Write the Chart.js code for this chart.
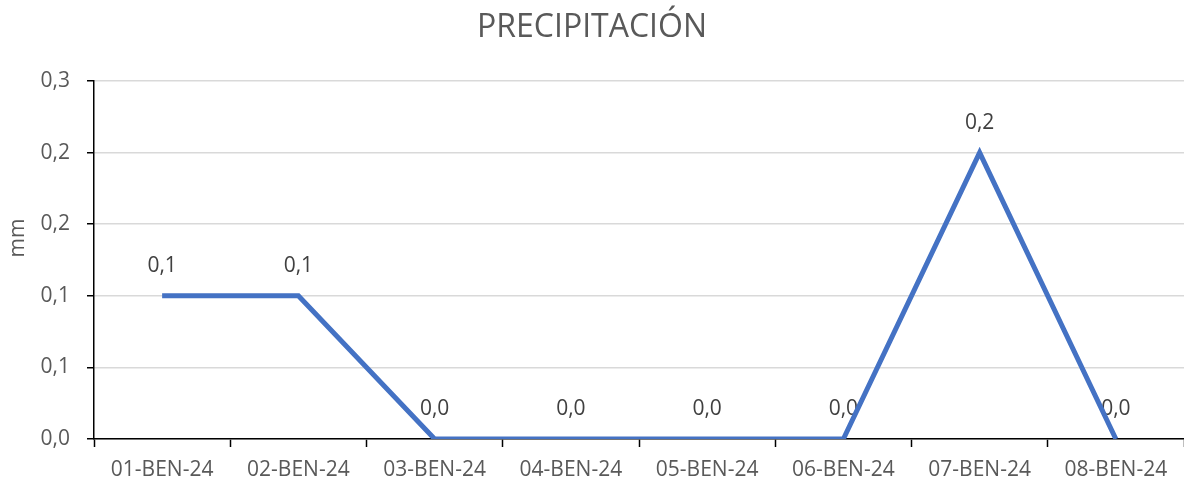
<!DOCTYPE html>
<html>
<head>
<meta charset="utf-8">
<script src="https://cdn.jsdelivr.net/npm/chart.js@4/dist/chart.umd.min.js"></script>
<style>
html, body { margin: 0; padding: 0; background: #fff; }
</style>
</head>
<body>
<canvas id="grafico" width="1184" height="482"></canvas>
<script>
// DATOS
const dias = ['01-BEN-24', '02-BEN-24', '03-BEN-24', '04-BEN-24', '05-BEN-24', '06-BEN-24', '07-BEN-24', '08-BEN-24']
const precipitacion = [0.1, 0.1, 0, 0, 0, 0, 0.2, 0]
const yTicks = [0, 0.05, 0.1, 0.15, 0.2, 0.25]
const yLabels = ['0,0', '0,1', '0,1', '0,2', '0,2', '0,3']

const fuente = '"Open Sans", "Noto Sans", sans-serif'
const gris = '#595959'

function formato(v) {
    return (Math.round(v * 10 + 1e-9) / 10).toFixed(1).replace('.', ',')
}

// etiquetas encima de cada punto (debajo de la linea)
const etiquetas = {
    id: 'etiquetas',
    beforeDatasetsDraw(chart) {
        let ctx = chart.ctx
        let meta = chart.getDatasetMeta(0)
        ctx.save()
        ctx.font = '21px ' + fuente
        ctx.fillStyle = '#404040'
        ctx.textAlign = 'center'
        ctx.textBaseline = 'middle'
        meta.data.forEach((p, i) => {
            ctx.fillText(formato(precipitacion[i]), p.x, p.y - 30)
        })
        ctx.restore()
    }
}

// titulo del eje y
const tituloY = {
    id: 'tituloY',
    afterDraw(chart) {
        let ctx = chart.ctx
        ctx.save()
        ctx.translate(18, 238)
        ctx.rotate(-Math.PI / 2)
        ctx.font = '21px ' + fuente
        ctx.fillStyle = gris
        ctx.textAlign = 'center'
        ctx.textBaseline = 'middle'
        ctx.fillText('mm', 0, 0)
        ctx.restore()
    }
}

new Chart(document.getElementById('grafico').getContext('2d'), {
    type: 'line',
    data: {
        labels: dias,
        datasets: [{
            label: 'mm',
            data: precipitacion,
            borderColor: '#4472C4',
            borderWidth: 5,
            pointRadius: 0,
            tension: 0,
            fill: false
        }]
    },
    options: {
        responsive: false,
        animation: false,
        layout: { padding: 0 },
        plugins: {
            legend: { display: false },
            tooltip: { enabled: false },
            title: {
                display: true,
                text: 'PRECIPITACIÓN',
                color: gris,
                font: { family: fuente, size: 32, weight: 'normal' },
                padding: { top: 8.8, bottom: 33.8 }
            }
        },
        scales: {
            x: {
                offset: true,
                grid: {
                    offset: true,
                    drawOnChartArea: false,
                    drawTicks: true,
                    tickLength: 8,
                    tickColor: '#000',
                    tickWidth: 1.5
                },
                border: { color: '#000', width: 1.5 },
                ticks: {
                    color: gris,
                    font: { family: fuente, size: 21 },
                    padding: 10,
                    maxRotation: 0
                },
                afterFit: s => { s.height = 43 }
            },
            y: {
                min: 0,
                max: 0.25,
                afterBuildTicks: s => { s.ticks = yTicks.map(v => ({ value: v })) },
                grid: {
                    color: '#d9d9d9',
                    lineWidth: 1.5,
                    tickLength: 7,
                    tickColor: '#000',
                    tickWidth: 1.5
                },
                border: { color: '#000', width: 1.5 },
                ticks: {
                    color: gris,
                    font: { family: fuente, size: 21 },
                    padding: 17,
                    callback: (v, i) => yLabels[i]
                },
                afterFit: s => { s.width = 94 }
            }
        }
    },
    plugins: [etiquetas, tituloY]
})
</script>
</body>
</html>
